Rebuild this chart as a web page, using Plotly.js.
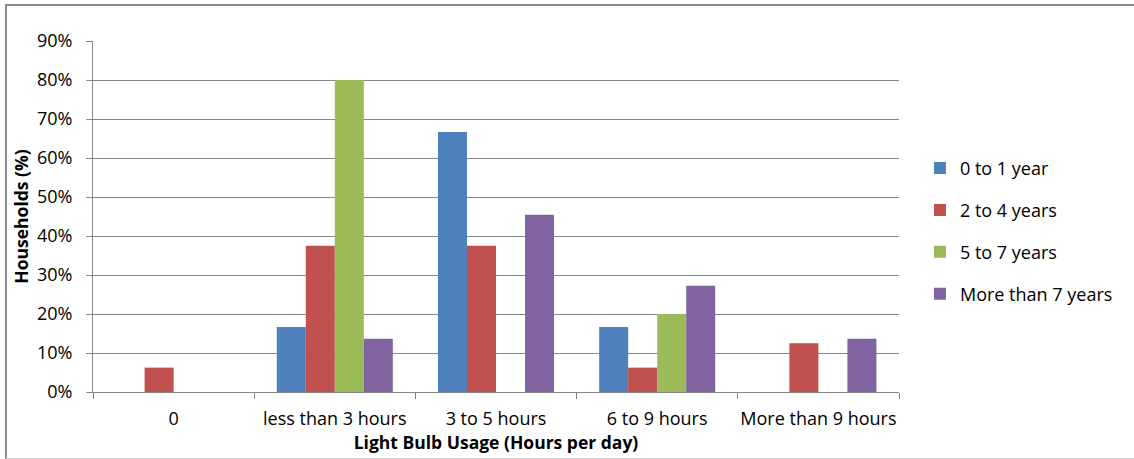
<!DOCTYPE html>
<html>
<head>
<meta charset="utf-8">
<script src="https://cdn.plot.ly/plotly-3.0.1.min.js"></script>
<style>
  html, body { margin: 0; padding: 0; background: #fff; overflow: hidden; }
  #frame { position: absolute; left: 5px; top: 4px; width: 1140px; height: 452px;
           border-left: 2px solid #8c8c8c; border-top: 2px solid #8c8c8c; border-bottom: 1px solid #d0d0d0; }
  #chart { position: absolute; left: 0; top: 0; width: 1134px; height: 459px; }
</style>
</head>
<body>
<div id="frame"></div>
<div id="chart"></div>
<script>
const categories = ["0", "less than 3 hours", "3 to 5 hours", "6 to 9 hours", "More than 9 hours"];
const seriesNames = ["0 to 1 year", "2 to 4 years", "5 to 7 years", "More than 7 years"];
const s0to1 = [0, 0.1667, 0.6667, 0.1667, 0];
const s2to4 = [0.0625, 0.375, 0.375, 0.0625, 0.125];
const s5to7 = [0, 0.80, 0, 0.20, 0];
const sOver7 = [0, 0.1364, 0.4545, 0.2727, 0.1364];
const yTicks = [0, 0.1, 0.2, 0.3, 0.4, 0.5, 0.6, 0.7, 0.8, 0.9];
const yTickText = ["0%", "10%", "20%", "30%", "40%", "50%", "60%", "70%", "80%", "90%"];
const colors = ["#4F81BD", "#C0504D", "#9BBB59", "#8064A2"];

const seriesValues = [s0to1, s2to4, s5to7, sOver7];
const FONT = "'Open Sans', sans-serif";

const data = seriesValues.map((vals, i) => ({
  type: "bar",
  name: seriesNames[i],
  x: categories,
  y: vals,
  marker: { color: colors[i], line: { width: 0 } },
  legendgroup: "g" + i,
  hoverinfo: "x+y+name"
}));

const layout = {
  width: 1134,
  height: 459,
  paper_bgcolor: "rgba(0,0,0,0)",
  plot_bgcolor: "rgba(0,0,0,0)",
  margin: { l: 93, r: 235, t: 41, b: 67 },
  font: { family: FONT, size: 18, color: "#000" },
  barmode: "group",
  bargap: 0.28,
  bargroupgap: 0,
  showlegend: true,
  legend: {
    x: 1.026, xanchor: "left",
    y: 0.69, yanchor: "top",
    tracegroupgap: 15.5,
    font: { family: FONT, size: 18, color: "#000" },
    bgcolor: "rgba(0,0,0,0)"
  },
  xaxis: {
    type: "category",
    showline: true, linecolor: "#868686", linewidth: 1,
    ticks: "outside", tickson: "boundaries", ticklen: 6, tickcolor: "#868686",
    showgrid: false,
    tickangle: 0,
    ticklabelstandoff: 10,
    tickfont: { family: FONT, size: 18, color: "#000" },
    title: { text: "<b>Light Bulb Usage (Hours per day)</b>", font: { family: FONT, size: 17.5, color: "#000" }, standoff: 0 }
  },
  yaxis: {
    range: [0, 0.9],
    tickvals: yTicks,
    ticktext: yTickText,
    showline: true, linecolor: "#868686", linewidth: 1,
    ticks: "outside", ticklen: 6, tickcolor: "#868686",
    showgrid: true, gridcolor: "#868686", gridwidth: 1,
    zeroline: false,
    ticklabelstandoff: 10,
    tickfont: { family: FONT, size: 18, color: "#000" },
    title: { text: "<b>Households (%)</b>", font: { family: FONT, size: 17.5, color: "#000" }, standoff: 3 }
  }
};

Plotly.newPlot("chart", data, layout, { displayModeBar: false, staticPlot: true });
</script>
</body>
</html>
